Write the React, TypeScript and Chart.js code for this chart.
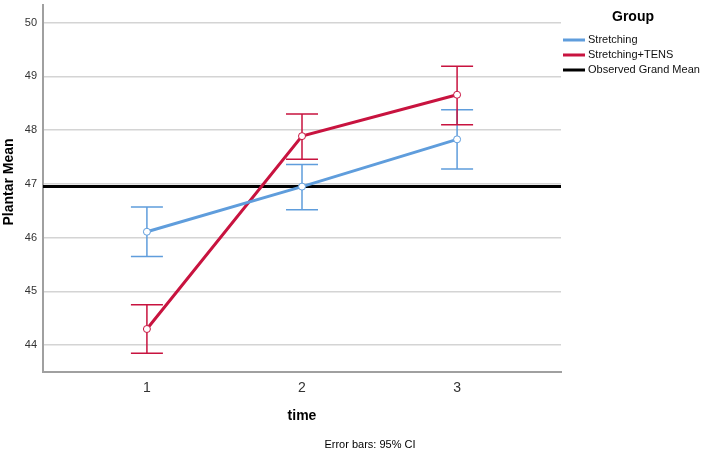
import React, { useEffect, useRef } from 'react';
import { Chart, registerables, Plugin } from 'chart.js';

Chart.register(...registerables);

const times = [1, 2, 3];
const stretchingMean = [46.11, 46.95, 47.83];
const stretchingLow = [45.65, 46.52, 47.28];
const stretchingHigh = [46.57, 47.36, 48.38];
const tensMean = [44.3, 47.89, 48.66];
const tensLow = [43.85, 47.46, 48.1];
const tensHigh = [44.75, 48.3, 49.19];
const grandMean = 46.95;
const yTicks = [44, 45, 46, 47, 48, 49, 50];
const groupNames = ['Stretching', 'Stretching+TENS', 'Observed Grand Mean'];

const BLUE = '#5f9ddc';
const RED = '#c8133f';
const FONT = '"Liberation Sans", Arial, sans-serif';
const X_MIN = 0.33;
const X_MAX = 3.67;

// error bars (95% CI) drawn under the lines
const errorBars: Plugin = {
  id: 'errorBars',
  beforeDatasetsDraw(chart) {
    const { ctx } = chart;
    const xs = chart.scales.x;
    const ys = chart.scales.y;
    const groups = [
      { color: BLUE, low: stretchingLow, high: stretchingHigh },
      { color: RED, low: tensLow, high: tensHigh },
    ];
    ctx.save();
    ctx.lineWidth = 1.5;
    groups.forEach(g => {
      ctx.strokeStyle = g.color;
      times.forEach((t, i) => {
        const x = xs.getPixelForValue(t);
        const y1 = ys.getPixelForValue(g.low[i]);
        const y2 = ys.getPixelForValue(g.high[i]);
        ctx.beginPath();
        ctx.moveTo(x, y1);
        ctx.lineTo(x, y2);
        ctx.moveTo(x - 16, y1);
        ctx.lineTo(x + 16, y1);
        ctx.moveTo(x - 16, y2);
        ctx.lineTo(x + 16, y2);
        ctx.stroke();
      });
    });
    ctx.restore();
  },
};

// legend, axis titles and footnote
const annotations: Plugin = {
  id: 'annotations',
  afterDraw(chart) {
    const { ctx, chartArea } = chart;
    ctx.save();
    ctx.fillStyle = '#000';
    ctx.textBaseline = 'middle';

    ctx.font = `bold 14px ${FONT}`;
    ctx.textAlign = 'center';
    ctx.fillText('Group', 633, 17);

    const colors = [BLUE, RED, '#000'];
    ctx.font = `11px ${FONT}`;
    ctx.textAlign = 'left';
    groupNames.forEach((name, i) => {
      const y = 40 + i * 15;
      ctx.strokeStyle = colors[i];
      ctx.lineWidth = 3;
      ctx.beginPath();
      ctx.moveTo(563, y);
      ctx.lineTo(585, y);
      ctx.stroke();
      ctx.fillStyle = '#111';
      ctx.fillText(name, 588, y);
    });

    ctx.fillStyle = '#000';
    ctx.font = `bold 14px ${FONT}`;
    ctx.textAlign = 'center';
    ctx.fillText('time', (chartArea.left + chartArea.right) / 2, 416);

    ctx.save();
    ctx.translate(9, 182);
    ctx.rotate(-Math.PI / 2);
    ctx.fillText('Plantar Mean', 0, 0);
    ctx.restore();

    ctx.font = `11px ${FONT}`;
    ctx.fillText('Error bars: 95% CI', 370, 445);
    ctx.restore();
  },
};

const App: React.FC = () => {
  const canvasRef = useRef<HTMLCanvasElement | null>(null);

  useEffect(() => {
    document.body.style.margin = '0';
    const canvas = canvasRef.current;
    if (!canvas) return;

    const chart = new Chart(canvas, {
      type: 'line',
      data: {
        datasets: [
          {
            label: groupNames[0],
            data: times.map((t, i) => ({ x: t, y: stretchingMean[i] })),
            borderColor: BLUE,
            borderWidth: 3,
            pointRadius: 3.5,
            pointBorderWidth: 1,
            pointBackgroundColor: '#fff',
            pointBorderColor: BLUE,
          },
          {
            label: groupNames[1],
            data: times.map((t, i) => ({ x: t, y: tensMean[i] })),
            borderColor: RED,
            borderWidth: 3,
            pointRadius: 3.5,
            pointBorderWidth: 1,
            pointBackgroundColor: '#fff',
            pointBorderColor: RED,
          },
          {
            label: groupNames[2],
            data: [{ x: X_MIN, y: grandMean }, { x: X_MAX, y: grandMean }],
            borderColor: '#000',
            borderWidth: 3,
            pointRadius: 0,
          },
        ],
      },
      options: {
        animation: false,
        responsive: true,
        maintainAspectRatio: false,
        layout: { padding: { top: 3, right: 148, left: 0, bottom: 0 } },
        plugins: {
          legend: { display: false },
          tooltip: { enabled: false },
        },
        scales: {
          x: {
            type: 'linear',
            min: X_MIN,
            max: X_MAX,
            afterBuildTicks: scale => {
              scale.ticks = times.map(v => ({ value: v }));
            },
            afterFit: scale => {
              scale.height = 79;
              scale.paddingLeft = 0;
              scale.paddingRight = 0;
            },
            grid: { display: false, drawTicks: false },
            border: { display: true, color: '#a0a0a0', width: 2 },
            ticks: {
              padding: 8,
              color: '#333',
              font: { family: FONT, size: 14 },
              callback: v => String(v),
            },
          },
          y: {
            min: 43.5,
            max: 50.33,
            afterBuildTicks: scale => {
              scale.ticks = yTicks.map(v => ({ value: v }));
            },
            afterFit: scale => {
              scale.width = 43;
              scale.paddingTop = 0;
              scale.paddingBottom = 0;
            },
            grid: { color: '#d4d4d4', lineWidth: 1.5, drawTicks: false },
            border: { display: true, color: '#a0a0a0', width: 2 },
            ticks: {
              padding: 6,
              color: '#333',
              font: { family: FONT, size: 11 },
              callback: v => String(v),
            },
          },
        },
      },
      plugins: [errorBars, annotations],
    });

    return () => chart.destroy();
  }, []);

  return (
    <div style={{ width: 709, height: 451, position: 'relative', background: '#fff' }}>
      <canvas ref={canvasRef} />
    </div>
  );
};

export default App;
